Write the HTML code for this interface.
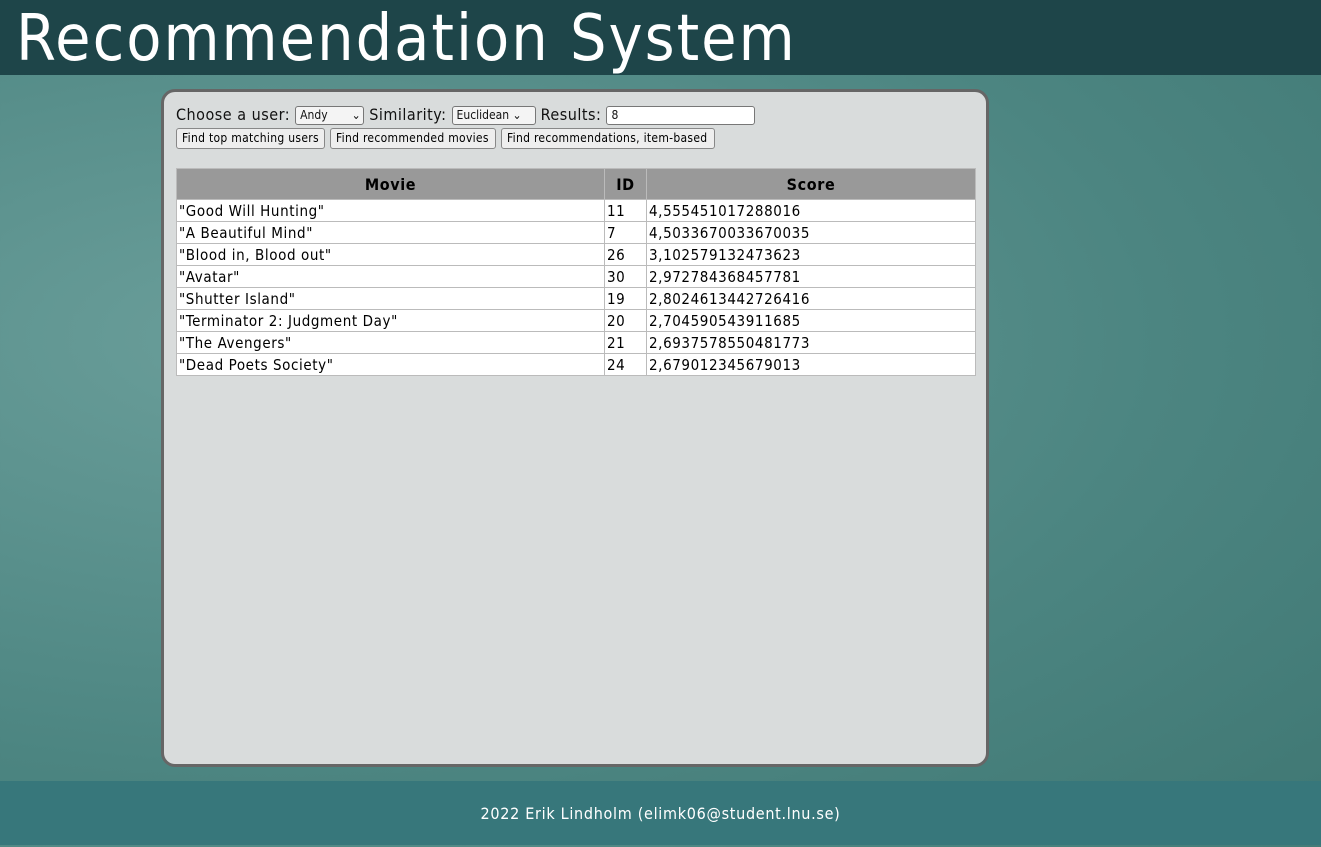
<!DOCTYPE html>
<html><head><style>
body{margin:0;width:1321px;height:845px;overflow:hidden;font-family:"DejaVu Sans Condensed","DejaVu Sans","Liberation Sans",sans-serif;background:radial-gradient(ellipse at 20% 40%,#6a9e9a,#4c8581 60%,#3f7773);position:relative}
.hdr{position:absolute;left:0;top:0;width:1321px;height:75px;background:#1e4549;color:#fff;font-size:64px;line-height:78px;padding-left:16px;box-sizing:border-box;letter-spacing:2px}
.ftr{position:absolute;left:0;top:781px;width:1321px;height:64px;background:#37777b;color:#fff;font-size:16px;text-align:center;line-height:66px;letter-spacing:0.7px}
.panel{position:absolute;left:161px;top:89px;width:822px;height:672px;border:3px solid #666;border-radius:14px;background:#d9dcdc}
.row1{position:absolute;left:12px;top:13px;font-size:16px;color:#111;white-space:nowrap;letter-spacing:0.5px}
.sel{display:inline-block;border:1px solid #777;border-radius:3px;background:#f4f4f4;font-size:12px;height:19px;line-height:17px;padding:0 4px;vertical-align:middle;box-sizing:border-box;letter-spacing:0}
.btn{position:absolute;top:36px;height:21px;border:1px solid #888;border-radius:3px;background:#eee;font-size:12px;line-height:19px;padding:0 5px;box-sizing:border-box;white-space:nowrap;overflow:hidden;letter-spacing:0.3px}
table{position:absolute;left:12px;top:76px;border-collapse:collapse;font-size:15px;width:800px;letter-spacing:0.6px;table-layout:fixed}
th{background:#999;height:30px;padding:0;border:1px solid #bbb;font-size:16px}
td{background:#fff;border:1px solid #bbb;height:21px;padding:0 2px;line-height:20px;white-space:nowrap}
</style></head><body>
<div class="hdr">Recommendation System</div>
<div class="panel">
<div class="row1">Choose a user: <span class="sel" style="width:69px">Andy &nbsp;&nbsp;&nbsp;&nbsp;&nbsp; ⌄</span> Similarity: <span class="sel" style="width:84px">Euclidean ⌄</span> Results: <span class="sel" style="width:149px;background:#fff">8</span></div>
<div class="btn" style="left:12px;width:149px">Find top matching users</div>
<div class="btn" style="left:166px;width:166px">Find recommended movies</div>
<div class="btn" style="left:337px;width:214px">Find recommendations, item-based</div>
<table>
<colgroup><col style="width:428px"><col style="width:42px"><col></colgroup>
<tr><th>Movie</th><th>ID</th><th>Score</th></tr>
<tr><td>"Good Will Hunting"</td><td>11</td><td>4,555451017288016</td></tr>
<tr><td>"A Beautiful Mind"</td><td>7</td><td>4,5033670033670035</td></tr>
<tr><td>"Blood in, Blood out"</td><td>26</td><td>3,102579132473623</td></tr>
<tr><td>"Avatar"</td><td>30</td><td>2,972784368457781</td></tr>
<tr><td>"Shutter Island"</td><td>19</td><td>2,8024613442726416</td></tr>
<tr><td>"Terminator 2: Judgment Day"</td><td>20</td><td>2,704590543911685</td></tr>
<tr><td>"The Avengers"</td><td>21</td><td>2,6937578550481773</td></tr>
<tr><td>"Dead Poets Society"</td><td>24</td><td>2,679012345679013</td></tr>
</table>
</div>
<div class="ftr">2022 Erik Lindholm (elimk06@student.lnu.se)</div>
</body></html>
